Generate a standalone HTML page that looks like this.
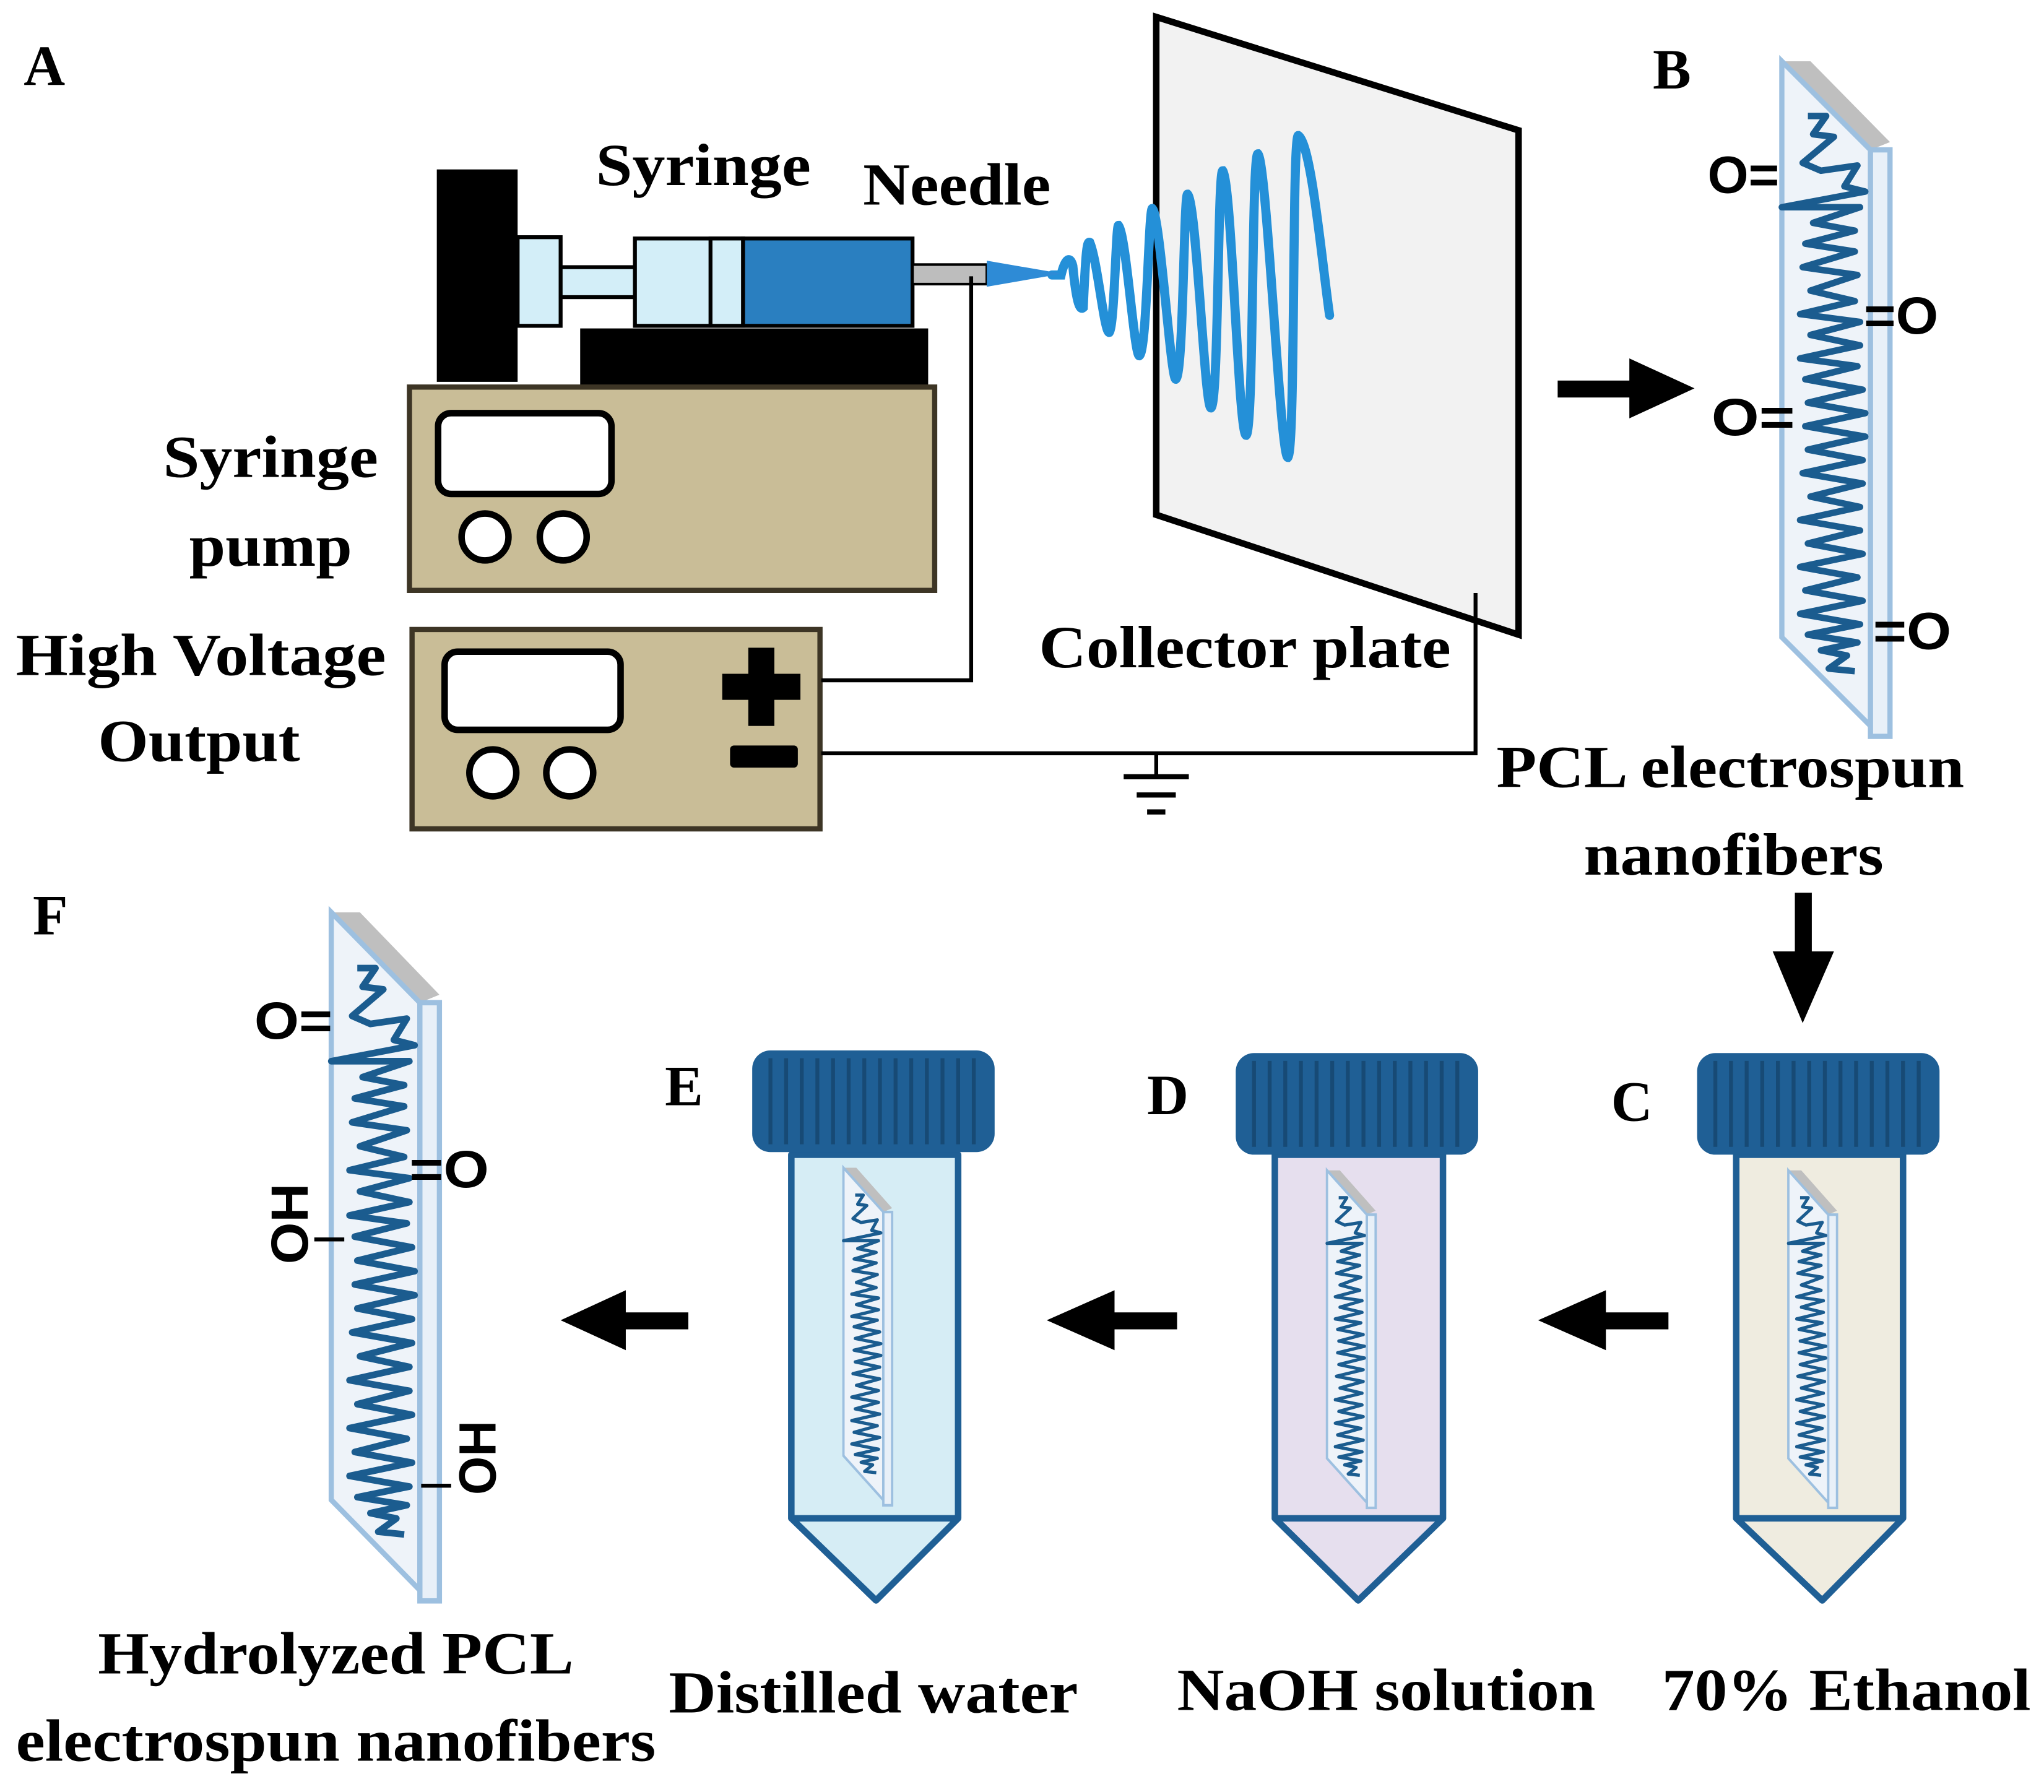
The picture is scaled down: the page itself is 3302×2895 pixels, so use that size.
<!DOCTYPE html>
<html><head><meta charset="utf-8"><style>
html,body{margin:0;padding:0;background:#fff}
svg{display:block}
.s{font-family:"Liberation Serif",serif;font-weight:bold;fill:#000}
.c{font-family:"Liberation Sans",sans-serif;font-weight:bold;fill:#000}
</style></head><body>
<svg width="3302" height="2895" viewBox="0 0 1568 1375" xmlns="http://www.w3.org/2000/svg">
<defs>
<g id="slide">
  <polygon points="0,0 22,0 83,62 68,68" fill="#bfbfbf"/>
  <polygon points="0,0 68,68 68,510 0,442" fill="#eef3f9" stroke="#9dc0e0" stroke-width="4"/>
  <rect x="68" y="68" width="15" height="450" fill="#e8f0f8" stroke="#9dc0e0" stroke-width="4"/>
  <polyline fill="none" stroke="#1b5c8f" stroke-width="5" stroke-linejoin="round"
   points="20,42 34,42 24,56 40,58 16,78 30,84 58,80 48,96 64,100 0,112 60,112 24,124 56,130 18,140 56,146 16,158 58,164 22,176 56,184 14,194 60,200 22,210 60,218 14,228 58,234 18,244 62,252 20,262 64,270 18,280 64,288 20,298 62,306 16,316 62,324 22,334 60,342 14,352 60,360 20,370 62,378 14,388 58,396 18,406 62,414 14,424 60,432 20,440 58,446 30,452 50,456 36,466 56,468"/>
</g>
<g id="tube">
  <rect x="0" y="0" width="186" height="78" rx="14" fill="#1f5f95"/>
  <g stroke="#174a75" stroke-width="3">
   <line x1="14" y1="6" x2="14" y2="72"/><line x1="26" y1="6" x2="26" y2="72"/><line x1="38" y1="6" x2="38" y2="72"/><line x1="50" y1="6" x2="50" y2="72"/><line x1="62" y1="6" x2="62" y2="72"/><line x1="74" y1="6" x2="74" y2="72"/><line x1="86" y1="6" x2="86" y2="72"/><line x1="98" y1="6" x2="98" y2="72"/><line x1="110" y1="6" x2="110" y2="72"/><line x1="122" y1="6" x2="122" y2="72"/><line x1="134" y1="6" x2="134" y2="72"/><line x1="146" y1="6" x2="146" y2="72"/><line x1="158" y1="6" x2="158" y2="72"/><line x1="170" y1="6" x2="170" y2="72"/>
  </g>
</g>
</defs>

<g class="s" font-size="44">
<text x="18" y="65">A</text>
<text x="1268" y="68">B</text>
<text x="25" y="717">F</text>
<text x="510" y="848">E</text>
<text x="880" y="855">D</text>
<text x="1236" y="860">C</text>
</g>

<polygon points="887,13 1165,100 1165,487 887,395" fill="#f2f2f2" stroke="#000" stroke-width="5"/>
<path fill="none" stroke="#2490d8" stroke-width="7" stroke-linecap="round"
 d="M807,211 L814,211 C817,198 821,196 823,204 C826,236 829,238 831,236 C833,190 834,185 836,186 C842,200 847,256 851,255 C855,250 856,173 858,173 C864,180 870,273 874,273 C880,270 881,160 884,160 C890,165 898,291 902,291 C908,288 908,149 911,149 C918,155 924,313 929,313 C935,310 934,131 938,131 C945,140 950,334 956,334 C962,330 960,118 965,118 C972,125 982,351 988,351 C994,345 991,104 996,104 C1006,110 1014,200 1020,242"/>

<rect x="335" y="130" width="62" height="163" fill="#000"/>
<rect x="397" y="182" width="33" height="68" fill="#d3eef8" stroke="#000" stroke-width="3"/>
<rect x="430" y="205" width="57" height="23" fill="#d3eef8" stroke="#000" stroke-width="3"/>
<rect x="487" y="183" width="83" height="67" fill="#d3eef8" stroke="#000" stroke-width="3"/>
<rect x="545" y="183" width="25" height="67" fill="#d3eef8" stroke="#000" stroke-width="3"/>
<rect x="570" y="183" width="130" height="67" fill="#2a7fc0" stroke="#000" stroke-width="3"/>
<rect x="700" y="203" width="57" height="15" fill="#bdbdbd" stroke="#000" stroke-width="2"/>
<polygon points="757,200 815,210 757,220" fill="#2e8bd6"/>
<rect x="445" y="252" width="267" height="45" fill="#000"/>

<rect x="314" y="297" width="403" height="156" fill="#c9bd97" stroke="#3d3525" stroke-width="4"/>
<rect x="336" y="317" width="133" height="62" rx="10" fill="#fff" stroke="#000" stroke-width="5"/>
<circle cx="372" cy="412" r="18" fill="#fff" stroke="#000" stroke-width="5"/>
<circle cx="432" cy="412" r="18" fill="#fff" stroke="#000" stroke-width="5"/>

<rect x="316" y="483" width="313" height="153" fill="#c9bd97" stroke="#3d3525" stroke-width="4"/>
<rect x="341" y="500" width="135" height="60" rx="10" fill="#fff" stroke="#000" stroke-width="5"/>
<circle cx="378" cy="593" r="18" fill="#fff" stroke="#000" stroke-width="5"/>
<circle cx="437" cy="593" r="18" fill="#fff" stroke="#000" stroke-width="5"/>
<rect x="574" y="497" width="20" height="60" fill="#000"/>
<rect x="554" y="517" width="60" height="20" fill="#000"/>
<rect x="560" y="572" width="52" height="17" rx="3" fill="#000"/>

<polyline points="630,522 745,522 745,212" fill="none" stroke="#000" stroke-width="3"/>
<polyline points="630,578 1132,578 1132,455" fill="none" stroke="#000" stroke-width="3"/>
<line x1="887" y1="578" x2="887" y2="595" stroke="#000" stroke-width="3"/>
<line x1="862" y1="596" x2="912" y2="596" stroke="#000" stroke-width="4"/>
<line x1="872" y1="610" x2="902" y2="610" stroke="#000" stroke-width="4"/>
<line x1="880" y1="623" x2="894" y2="623" stroke="#000" stroke-width="4"/>

<g class="s" font-size="46">
<text x="457" y="142" textLength="165" lengthAdjust="spacingAndGlyphs">Syringe</text>
<text x="662" y="157" textLength="144" lengthAdjust="spacingAndGlyphs">Needle</text>
<text x="125" y="366" textLength="165" lengthAdjust="spacingAndGlyphs">Syringe</text>
<text x="145" y="434" textLength="125" lengthAdjust="spacingAndGlyphs">pump</text>
<text x="12" y="518" textLength="284" lengthAdjust="spacingAndGlyphs">High Voltage</text>
<text x="75" y="584" textLength="155" lengthAdjust="spacingAndGlyphs">Output</text>
<text x="797" y="512" textLength="316" lengthAdjust="spacingAndGlyphs">Collector plate</text>
<text x="1148" y="604" textLength="359" lengthAdjust="spacingAndGlyphs">PCL electrospun</text>
<text x="1215" y="671" textLength="230" lengthAdjust="spacingAndGlyphs">nanofibers</text>
<text x="75" y="1284" textLength="365" lengthAdjust="spacingAndGlyphs">Hydrolyzed PCL</text>
<text x="12" y="1351" textLength="491" lengthAdjust="spacingAndGlyphs">electrospun nanofibers</text>
<text x="513" y="1314" textLength="314" lengthAdjust="spacingAndGlyphs">Distilled water</text>
<text x="903" y="1312" textLength="321" lengthAdjust="spacingAndGlyphs">NaOH solution</text>
<text x="1275" y="1312" textLength="283" lengthAdjust="spacingAndGlyphs">70% Ethanol</text>
</g>

<g fill="#000">
<rect x="1195" y="292" width="60" height="13"/><polygon points="1250,275 1300,298 1250,321"/>
<rect x="1377" y="685" width="13" height="50"/><polygon points="1360,730 1407,730 1383,785"/>
<rect x="1230" y="1007" width="50" height="13"/><polygon points="1232,990 1180,1013 1232,1036"/>
<rect x="853" y="1007" width="50" height="13"/><polygon points="855,990 803,1013 855,1036"/>
<rect x="478" y="1007" width="50" height="13"/><polygon points="480,990 430,1013 480,1036"/>
</g>

<use href="#slide" transform="translate(1367,47)"/>
<g class="c" font-size="40">
<text x="1310" y="148" textLength="55" lengthAdjust="spacingAndGlyphs">O=</text>
<text x="1430" y="256" textLength="57" lengthAdjust="spacingAndGlyphs">=O</text>
<text x="1313" y="334" textLength="64" lengthAdjust="spacingAndGlyphs">O=</text>
<text x="1437" y="498" textLength="60" lengthAdjust="spacingAndGlyphs">=O</text>
</g>

<use href="#slide" transform="translate(254,700) scale(1,1.02)"/>
<g class="c" font-size="40">
<text x="195" y="797" textLength="60" lengthAdjust="spacingAndGlyphs">O=</text>
<text x="314" y="911" textLength="61" lengthAdjust="spacingAndGlyphs">=O</text>
<text transform="translate(236,970) rotate(-90)" x="0" y="0" textLength="62" lengthAdjust="spacingAndGlyphs">OH</text>
<text transform="translate(380,1147) rotate(-90)" x="0" y="0" textLength="57" lengthAdjust="spacingAndGlyphs">OH</text>
</g>
<line x1="241" y1="951" x2="264" y2="951" stroke="#000" stroke-width="3"/>
<line x1="323" y1="1140" x2="346" y2="1140" stroke="#000" stroke-width="3"/>

<g>
 <path d="M1332,886 V1165 L1398,1228 L1460,1165 V886 Z" fill="#efece0" stroke="#1f5f95" stroke-width="5" stroke-linejoin="round"/>
 <line x1="1332" y1="1165" x2="1460" y2="1165" stroke="#1f5f95" stroke-width="5"/>
 <use href="#tube" x="1302" y="808"/>
 <use href="#slide" transform="translate(1372,898) scale(0.45,0.5)"/>
</g>
<g>
 <path d="M978,886 V1165 L1042,1228 L1107,1165 V886 Z" fill="#e6dfee" stroke="#1f5f95" stroke-width="5" stroke-linejoin="round"/>
 <line x1="978" y1="1165" x2="1107" y2="1165" stroke="#1f5f95" stroke-width="5"/>
 <use href="#tube" x="948" y="808"/>
 <use href="#slide" transform="translate(1018,898) scale(0.45,0.5)"/>
</g>
<g>
 <path d="M607,886 V1165 L672,1228 L735,1165 V886 Z" fill="#d6edf5" stroke="#1f5f95" stroke-width="5" stroke-linejoin="round"/>
 <line x1="607" y1="1165" x2="735" y2="1165" stroke="#1f5f95" stroke-width="5"/>
 <use href="#tube" x="577" y="806"/>
 <use href="#slide" transform="translate(647,896) scale(0.45,0.5)"/>
</g>
</svg>
</body></html>
